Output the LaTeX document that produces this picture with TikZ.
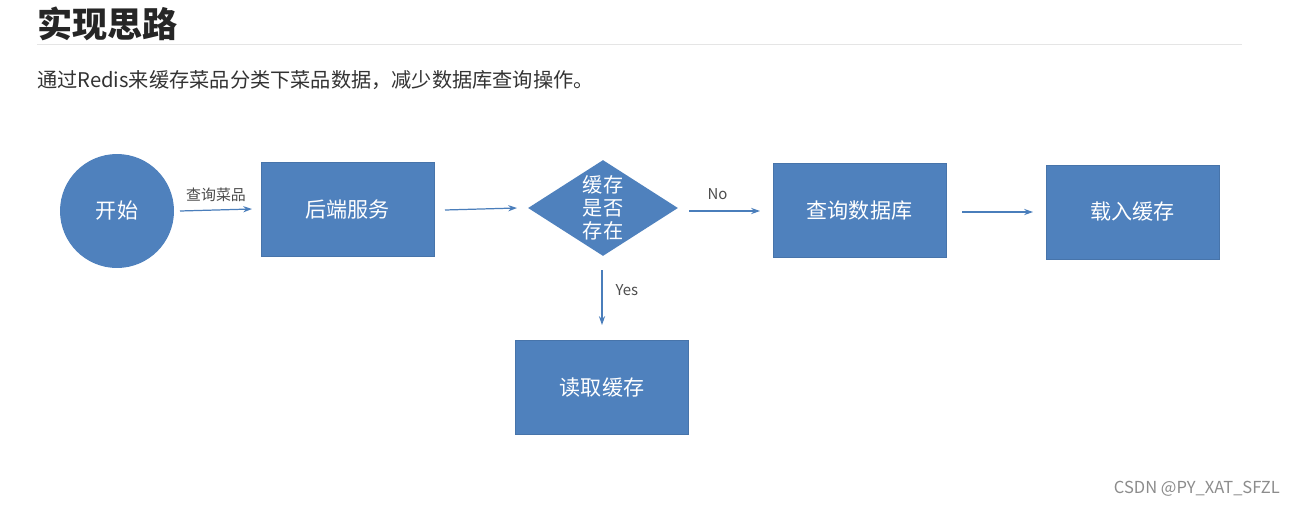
\documentclass[tikz,border=0pt]{standalone}
\usepackage{fontspec}
\setmainfont{Noto Sans CJK SC}
\usetikzlibrary{shapes.geometric,arrows.meta}
\definecolor{boxblue}{HTML}{4F81BD}
\definecolor{linkblue}{HTML}{4A7EBB}
\tikzset{
  flowbox/.style={fill=boxblue, draw=boxblue!90!black, text=white, font=\fontsize{12}{14}\selectfont, minimum width=3.46cm, minimum height=1.88cm, inner sep=0pt},
  flowline/.style={draw=linkblue, line width=0.7pt, -{Stealth[length=5pt,width=3.5pt]}},
  linklabel/.style={font=\fontsize{8.5}{10}\selectfont, text=black!70}
}
\begin{document}
\begin{tikzpicture}[x=0.02cm,y=-0.02cm]
    \useasboundingbox[fill=white] (0,0) rectangle (1298,507);
    % heading and intro line
    \node[anchor=west, font=\fontsize{20}{24}\selectfont\bfseries, text=black!85] (title) at (31,24) {实现思路};
    \draw[black!10] (37,44) -- (1242,44);
    \node[anchor=west, font=\fontsize{11.5}{14}\selectfont, text=black!80] (intro) at (31,80) {通过Redis来缓存菜品分类下菜品数据，减少数据库查询操作。};

    % flow nodes
    \node[circle, fill=boxblue, text=white, minimum size=2.28cm, inner sep=0pt, font=\fontsize{12}{14}\selectfont] (start) at (117,211) {开始};
    \node[flowbox] (backend) at (347.5,209) {后端服务};
    \node[diamond, fill=boxblue, text=white, minimum width=3cm, minimum height=1.92cm, inner sep=0pt, aspect=1.56, font=\fontsize{11.5}{13}\selectfont, align=center] (check) at (603,208) {缓存\\是否\\存在};
    \node[flowbox] (querydb) at (859.5,210.5) {查询数据库};
    \node[flowbox] (load) at (1132.5,212) {载入缓存};
    \node[flowbox] (readcache) at (602,387.5) {读取缓存};

    % connectors
    \coordinate (a1) at (180,211);
    \coordinate (a2) at (252,209);
    \draw[flowline] (a1) -- node[linklabel, above=1pt] {查询菜品} (a2);
    \coordinate (b1) at (445,210);
    \coordinate (b2) at (517,208);
    \draw[flowline] (b1) -- (b2);
    \coordinate (c1) at (689,211);
    \coordinate (c2) at (760,211);
    \draw[flowline] (c1) -- node[linklabel, above=3pt, xshift=-4pt] {No} (c2);
    \coordinate (d1) at (962,212);
    \coordinate (d2) at (1033,212);
    \draw[flowline] (d1) -- (d2);
    \coordinate (e1) at (602,270);
    \coordinate (e2) at (602,325);
    \draw[flowline] (e1) -- node[linklabel, right=4pt, yshift=4pt] {Yes} (e2);

    % watermark
    \node[anchor=east, font=\fontsize{9.4}{11}\selectfont, text=black!45] (mark) at (1286,489) {CSDN @PY\_XAT\_SFZL};
\end{tikzpicture}
\end{document}
